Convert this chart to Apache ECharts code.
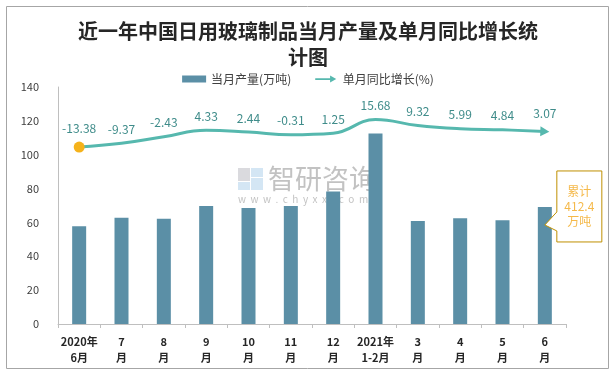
<!DOCTYPE html>
<html><head><meta charset="utf-8">
<script src="https://cdn.jsdelivr.net/npm/echarts@6/dist/echarts.min.js"></script>
<style>html,body{margin:0;padding:0;background:#fff}#c{width:616px;height:374px}</style>
</head><body><div id="c"></div>
<script>
const categories = ['2020年\n6月','7\n月','8\n月','9\n月','10\n月','11\n月','12\n月','2021年\n1-2月','3\n月','4\n月','5\n月','6\n月'];
const production = [57.8, 62.7, 62.1, 69.7, 68.5, 69.7, 78.2, 112.6, 60.8, 62.5, 61.3, 69.1];
const growth = [-13.38, -9.37, -2.43, 4.33, 2.44, -0.31, 1.25, 15.68, 9.32, 5.99, 4.84, 3.07];
const yTicks = [0, 20, 40, 60, 80, 100, 120, 140];
const totalText = '累计\n412.4\n万吨';

const FONT = '"Noto Sans CJK SC", "Noto Sans", sans-serif';
const LINE = '#56b8ae';
const chart = echarts.init(document.getElementById('c'), null, {renderer: 'canvas'});

const lineData = growth.map((v, i) => {
  if (i === 0) return {value: v, symbol: 'circle', symbolSize: 11, itemStyle: {color: '#f5b21b'}};
  if (i === growth.length - 1) return {value: v, symbol: 'triangle', symbolSize: [10, 9], symbolRotate: -92, itemStyle: {color: LINE}};
  return {value: v, symbol: 'circle', symbolSize: 2, itemStyle: {color: 'rgba(0,0,0,0)', borderWidth: 0}};
});

chart.setOption({
  animation: false,
  textStyle: {fontFamily: FONT},
  title: {
    text: '近一年中国日用玻璃制品当月产量及单月同比增长统\n计图',
    left: 'center', top: 13,
    textStyle: {fontFamily: FONT, fontSize: 20, fontWeight: 'bold', color: '#262626', lineHeight: 26}
  },
  legend: {
    top: 68, left: 'center', itemGap: 24, itemWidth: 24, itemHeight: 7,
    textStyle: {fontFamily: FONT, fontSize: 12, color: '#404040'},
    data: [
      {name: '当月产量(万吨)', icon: 'rect'},
      {name: '单月同比增长(%)', icon: 'path://M0,3 L17,3 L17,0 L24,4 L17,8 L17,5 L0,5 Z', itemStyle: {color: LINE}}
    ]
  },
  grid: {left: 58, right: 50, top: 87, bottom: 50},
  xAxis: {
    type: 'category', data: categories,
    axisLine: {lineStyle: {color: '#bfbfbf', width: 1}},
    axisTick: {show: true, length: 4, lineStyle: {color: '#bfbfbf'}},
    axisLabel: {interval: 0, margin: 10, fontFamily: FONT, fontSize: 11, fontWeight: 'bold', color: '#262626', lineHeight: 16}
  },
  yAxis: [
    {type: 'value', min: yTicks[0], max: yTicks[yTicks.length - 1], interval: 20,
     axisLine: {show: true, lineStyle: {color: '#bfbfbf'}}, axisTick: {show: false},
     splitLine: {show: false},
     axisLabel: {margin: 19, fontFamily: FONT, fontSize: 11, color: '#404040'}},
    {type: 'value', min: -200, max: 50, show: false, splitLine: {show: false}}
  ],
  series: [
    {name: '当月产量(万吨)', type: 'bar', data: production, barWidth: 14,
     itemStyle: {color: '#5b8fa6'}, z: 2},
    {name: '单月同比增长(%)', type: 'line', yAxisIndex: 1, data: lineData, smooth: 0.45,
     showAllSymbol: true,
     lineStyle: {color: LINE, width: 3}, z: 3,
     labelLayout: {hideOverlap: false},
     label: {show: true, position: 'top', distance: 7, fontFamily: FONT, fontSize: 12, color: '#3f8c8a',
             formatter: p => Number(p.value).toFixed(2)}}
  ]
});

// callout and watermark placed relative to the axis positions
const last = categories.length - 1;
const tip = chart.convertToPixel({xAxisIndex: 0, yAxisIndex: 0}, [last, 58.5]);
const tx = tip[0], ty = tip[1];
const bx = tx + 12, bw = 45, btop = ty - 54, bh = 71;
const wmX = 238, wmY = 168;
chart.setOption({
  graphic: [
    {type: 'rect', shape: {x: 6.5, y: 6.5, width: 602, height: 362}, style: {fill: 'none', stroke: '#a6a6a6', lineWidth: 1}, silent: true, z: -1},
    {type: 'polygon', z: 10, shape: {points: [[bx, btop], [bx + bw, btop], [bx + bw, btop + bh], [bx, btop + bh], [bx, ty + 6], [tx, ty], [bx, ty - 13]]},
     style: {fill: '#ffffff', stroke: '#bf9000', lineWidth: 1}},
    {type: 'text', z: 11, x: bx + bw / 2, y: btop + bh / 2,
     style: {text: totalText, fill: '#f5b94a', font: '12px ' + FONT, align: 'center', verticalAlign: 'middle', lineHeight: 15}},
    // watermark
    {type: 'group', z: 1, silent: true, children: [
      {type: 'rect', shape: {x: wmX, y: wmY, width: 12, height: 13}, style: {fill: 'rgba(150,150,160,0.35)'}},
      {type: 'rect', shape: {x: wmX + 13, y: wmY, width: 12, height: 9}, style: {fill: 'rgba(160,200,230,0.45)'}},
      {type: 'rect', shape: {x: wmX, y: wmY + 14, width: 12, height: 8}, style: {fill: 'rgba(160,200,230,0.45)'}},
      {type: 'rect', shape: {x: wmX + 13, y: wmY + 10, width: 12, height: 12}, style: {fill: 'rgba(160,200,230,0.45)'}},
      {type: 'text', x: wmX + 30, y: wmY + 11, style: {text: '智研咨询', fill: 'rgba(110,110,110,0.42)', font: '27px ' + FONT, verticalAlign: 'middle'}},
      {type: 'text', x: wmX, y: wmY + 31, style: {text: 'w  w  w  .  c  h  y  x  x  .  c  o  m', fill: 'rgba(110,110,110,0.42)', font: '10px ' + FONT, verticalAlign: 'middle'}}
    ]}
  ]
});
</script></body></html>
